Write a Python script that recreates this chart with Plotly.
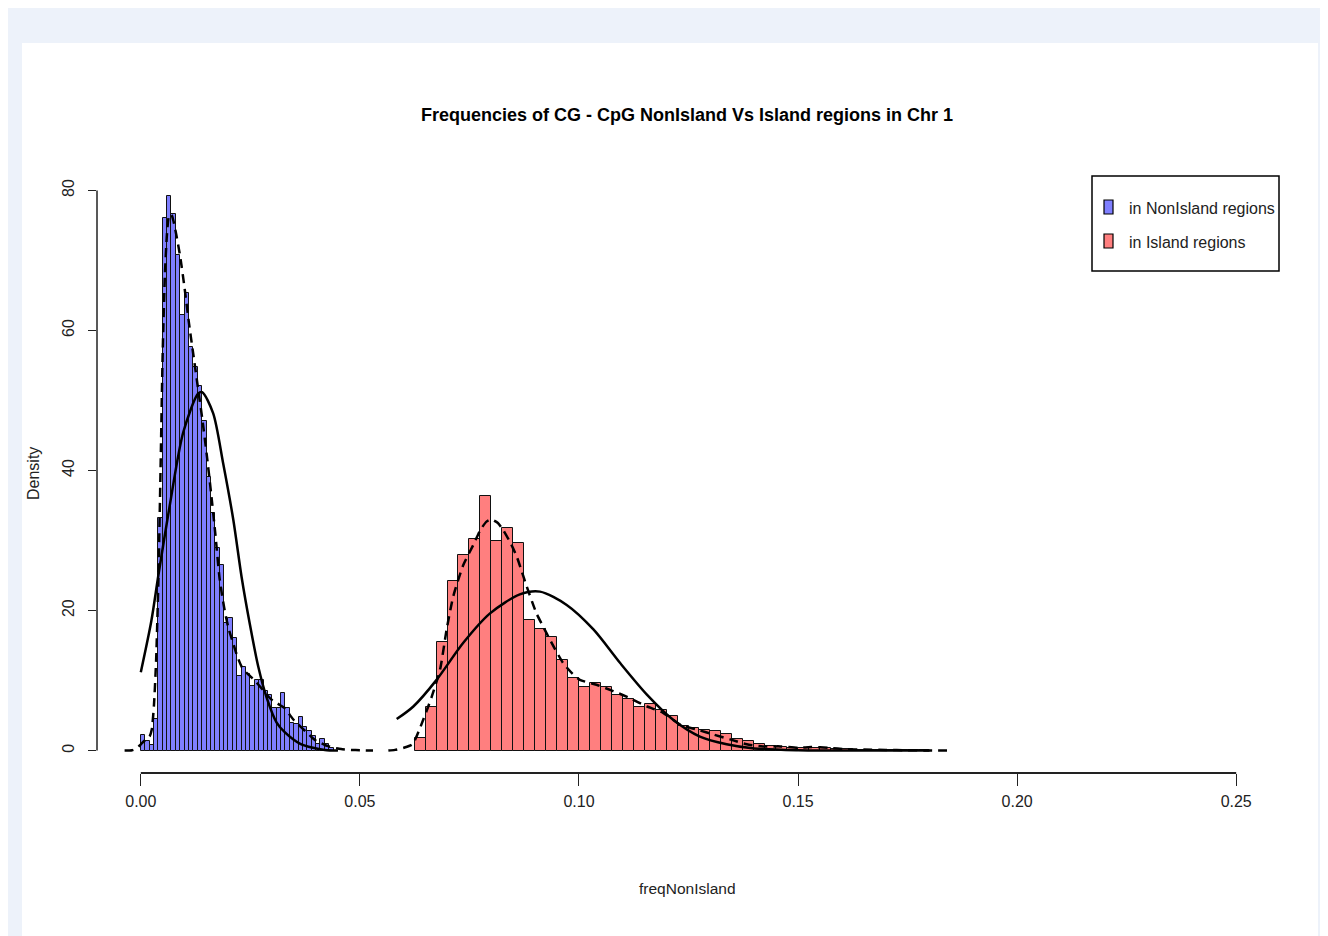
import plotly.graph_objects as go

# ---------------- data ----------------
blue_bin_width = 0.001
blue_bin_left = [0.000, 0.001, 0.002, 0.003, 0.004, 0.005, 0.006, 0.007, 0.008, 0.009,
                 0.010, 0.011, 0.012, 0.013, 0.014, 0.015, 0.016, 0.017, 0.018, 0.019,
                 0.020, 0.021, 0.022, 0.023, 0.024, 0.025, 0.026, 0.027, 0.028, 0.029,
                 0.030, 0.031, 0.032, 0.033, 0.034, 0.035, 0.036, 0.037, 0.038, 0.039,
                 0.040, 0.041, 0.042, 0.043]
blue_density = [2.2, 1.3, 0.8, 4.5, 33.2, 76.0, 79.2, 76.6, 70.8, 62.2,
                65.4, 57.7, 54.8, 52.0, 47.0, 39.1, 34.0, 29.0, 26.5, 18.2,
                18.9, 16.1, 10.6, 12.0, 11.0, 9.2, 10.1, 10.1, 8.5, 8.0,
                6.1, 6.1, 8.2, 6.1, 4.0, 3.8, 4.8, 3.4, 2.8, 2.1,
                0.9, 1.7, 0.9, 0.4]

red_bin_width = 0.0025
red_bin_left = [0.0625, 0.0650, 0.0675, 0.0700, 0.0725, 0.0750, 0.0775, 0.0800, 0.0825, 0.0850,
                0.0875, 0.0900, 0.0925, 0.0950, 0.0975, 0.1000, 0.1025, 0.1050, 0.1075, 0.1100,
                0.1125, 0.1150, 0.1175, 0.1200, 0.1225, 0.1250, 0.1275, 0.1300, 0.1325, 0.1350,
                0.1375, 0.1400, 0.1425, 0.1450, 0.1475, 0.1500, 0.1525, 0.1550, 0.1575, 0.1600,
                0.1625, 0.1650, 0.1675, 0.1700, 0.1725, 0.1750, 0.1775]
red_density = [1.8, 6.2, 15.5, 24.2, 28.0, 30.2, 36.4, 29.9, 31.8, 29.6,
               18.7, 17.4, 16.2, 13.0, 10.3, 9.1, 9.7, 9.1, 8.0, 7.3,
               6.2, 6.7, 5.8, 4.9, 3.5, 3.2, 3.0, 2.8, 2.3, 1.6,
               1.3, 0.9, 0.6, 0.5, 0.4, 0.4, 0.3, 0.3, 0.2, 0.2,
               0.1, 0.1, 0.1, 0.1, 0.05, 0.05, 0.05]

# kernel density curves (dashed)
blue_kde_x = [-0.0037, -0.002, -0.001, 0.0, 0.001, 0.002, 0.0025, 0.003, 0.0035, 0.004,
              0.0045, 0.005, 0.0055, 0.006, 0.0065, 0.007, 0.0075, 0.008, 0.009, 0.010,
              0.011, 0.012, 0.013, 0.014, 0.015, 0.016, 0.017, 0.018, 0.019, 0.020,
              0.021, 0.022, 0.023, 0.024, 0.025, 0.026, 0.027, 0.028, 0.029, 0.030,
              0.031, 0.032, 0.033, 0.034, 0.035, 0.036, 0.037, 0.038, 0.039, 0.040,
              0.041, 0.042, 0.043, 0.044, 0.045, 0.046, 0.048, 0.050, 0.053]
blue_kde_y = [0.0, 0.05, 0.3, 0.9, 1.5, 2.0, 3.0, 6.5, 13.0, 24.0,
              40.0, 57.0, 68.0, 74.0, 76.5, 76.5, 75.5, 74.0, 70.5, 66.0,
              61.0, 56.5, 52.0, 47.5, 42.5, 37.0, 31.0, 24.5, 20.5, 17.5,
              15.5, 13.5, 12.0, 11.2, 10.6, 10.0, 9.3, 8.6, 7.8, 7.2,
              6.8, 6.4, 6.0, 5.1, 4.3, 3.7, 3.1, 2.5, 1.9, 1.4,
              1.1, 0.8, 0.6, 0.4, 0.3, 0.2, 0.1, 0.04, 0.0]

red_kde_x = [0.0565, 0.058, 0.060, 0.062, 0.0637, 0.0664, 0.0683, 0.0698, 0.0713, 0.0736,
             0.0759, 0.0775, 0.0789, 0.0800, 0.0815, 0.0827, 0.0845, 0.0858, 0.0870, 0.0881,
             0.0903, 0.0920, 0.0934, 0.0964, 0.0985, 0.1002, 0.1040, 0.1078, 0.1116, 0.1155,
             0.1192, 0.1231, 0.1269, 0.1307, 0.1345, 0.1383, 0.1420, 0.1460, 0.1500, 0.1530,
             0.1570, 0.1610, 0.1650, 0.1700, 0.1750, 0.1800, 0.1850]
red_kde_y = [0.0, 0.1, 0.4, 0.9, 3.2, 7.7, 11.6, 17.3, 22.0, 26.5,
             29.4, 31.5, 32.7, 33.0, 32.5, 31.5, 29.5, 27.7, 25.5, 23.4,
             19.6, 17.5, 15.8, 12.5, 11.0, 10.1, 9.4, 8.5, 7.5, 6.3,
             5.4, 3.7, 3.0, 2.3, 1.6, 0.9, 0.6, 0.6, 0.4, 0.5,
             0.4, 0.2, 0.15, 0.1, 0.05, 0.02, 0.0]

# fitted normal curves (solid)
blue_norm_x = [0.0, 0.0024, 0.004, 0.0066, 0.0097, 0.0131, 0.0140, 0.0165, 0.0188, 0.0211,
               0.0230, 0.0249, 0.0268, 0.0287, 0.0310, 0.0329, 0.0363, 0.0393, 0.0420, 0.0450]
blue_norm_y = [11.2, 18.5, 25.0, 35.0, 45.5, 51.0, 51.2, 48.2, 41.0, 33.0,
               24.8, 18.0, 12.0, 7.6, 4.0, 2.6, 1.0, 0.4, 0.1, 0.0]

red_norm_x = [0.0584, 0.0622, 0.0675, 0.0736, 0.0797, 0.0865, 0.0911, 0.0972, 0.1033, 0.1094,
              0.1155, 0.1215, 0.1276, 0.1337, 0.1400, 0.1500, 0.1600, 0.1800]
red_norm_y = [4.5, 6.3, 10.1, 15.4, 19.6, 22.3, 22.7, 20.8, 17.3, 12.5,
              8.0, 4.4, 2.0, 0.9, 0.3, 0.05, 0.0, 0.0]

x_ticks = [0.00, 0.05, 0.10, 0.15, 0.20, 0.25]
x_tick_labels = ["0.00", "0.05", "0.10", "0.15", "0.20", "0.25"]
y_ticks = [0, 20, 40, 60, 80]
y_tick_labels = ["0", "20", "40", "60", "80"]

title_text = "Frequencies of CG - CpG NonIsland Vs Island regions in Chr 1"
x_title = "freqNonIsland"
y_title = "Density"
legend_labels = ["in NonIsland regions", "in Island regions"]

# ---------------- styles ----------------
BLUE = "#7F7FFF"
RED = "#FF7F7F"
FONT = "Liberation Sans, Arial, sans-serif"

BODY = 8  # default page margin around the figure
W, H = 1328 - BODY, 936 - BODY
ML, MR, MT, MB = 89, 48, 160, 163
PW = W - ML - MR
PH = H - MT - MB


def px_x(p):
    """page pixel -> paper x"""
    return (p - BODY - ML) / PW


def px_y(p):
    """page pixel -> paper y"""
    return (H - MB - (p - BODY)) / PH


fig = go.Figure()

fig.add_trace(go.Bar(
    x=[l + blue_bin_width / 2 for l in blue_bin_left], y=blue_density,
    width=blue_bin_width, marker=dict(color=BLUE, line=dict(color="#111", width=1)),
    name=legend_labels[0], showlegend=False))
fig.add_trace(go.Bar(
    x=[l + red_bin_width / 2 for l in red_bin_left], y=red_density,
    width=red_bin_width, marker=dict(color=RED, line=dict(color="#111", width=1)),
    name=legend_labels[1], showlegend=False))

for xs, ys in [(blue_kde_x, blue_kde_y), (red_kde_x, red_kde_y)]:
    fig.add_trace(go.Scatter(x=xs, y=ys, mode="lines", showlegend=False,
                             line=dict(color="black", width=2.5, dash="9px,6px", shape="spline", smoothing=0.6)))
for xs, ys in [(blue_norm_x, blue_norm_y), (red_norm_x, red_norm_y)]:
    fig.add_trace(go.Scatter(x=xs, y=ys, mode="lines", showlegend=False,
                             line=dict(color="black", width=2.5, shape="spline", smoothing=0.8)))

shapes = []
# page background panel
shapes.append(dict(type="rect", xref="paper", yref="paper", layer="below",
                   x0=px_x(22), x1=px_x(1318), y0=px_y(940), y1=px_y(43),
                   fillcolor="white", line=dict(width=0)))
# axis lines spanning the tick range
shapes.append(dict(type="line", xref="x", yref="paper", x0=min(x_ticks), x1=max(x_ticks),
                   y0=0, y1=0, line=dict(color="#222", width=2)))
shapes.append(dict(type="line", xref="paper", yref="y", x0=0, x1=0,
                   y0=min(y_ticks), y1=max(y_ticks), line=dict(color="#222", width=1.5)))
# legend box
shapes.append(dict(type="rect", xref="paper", yref="paper",
                   x0=px_x(1092), x1=px_x(1279), y0=px_y(271), y1=px_y(176),
                   fillcolor="white", line=dict(color="black", width=1.5)))
for c, yc in [(BLUE, 207), (RED, 241)]:
    shapes.append(dict(type="rect", xref="paper", yref="paper",
                       x0=px_x(1104), x1=px_x(1113), y0=px_y(yc + 7), y1=px_y(yc - 7),
                       fillcolor=c, line=dict(color="black", width=1.2)))

annotations = [
    dict(text="<b>" + title_text + "</b>", xref="paper", yref="paper", x=px_x(687), y=px_y(115),
         showarrow=False, font=dict(family=FONT, size=18, color="black"),
         xanchor="center", yanchor="middle"),
    dict(text=x_title, xref="paper", yref="paper", x=px_x(687), y=px_y(888),
         showarrow=False, font=dict(family=FONT, size=15.5, color="#222"),
         xanchor="center", yanchor="middle"),
    dict(text=y_title, xref="paper", yref="paper", x=px_x(33), y=px_y(474),
         showarrow=False, textangle=-90, font=dict(family=FONT, size=16, color="#222"),
         xanchor="center", yanchor="middle"),
]
for lab, yc in zip(legend_labels, [208, 242]):
    annotations.append(dict(text=lab, xref="paper", yref="paper", x=px_x(1127), y=px_y(yc),
                            showarrow=False, font=dict(family=FONT, size=16, color="#222"),
                            xanchor="left", yanchor="middle"))

fig.update_layout(
    width=W, height=H,
    margin=dict(l=ML, r=MR, t=MT, b=MB, pad=0),
    paper_bgcolor="#EDF2FA", plot_bgcolor="white",
    barmode="overlay", bargap=0,
    shapes=shapes, annotations=annotations,
    showlegend=False,
    xaxis=dict(range=[-0.01, 0.26], tickvals=x_ticks, ticktext=x_tick_labels,
               ticks="outside", ticklen=12, tickwidth=1.2, tickcolor="#222",
               showgrid=False, zeroline=False, showline=False,
               tickfont=dict(family=FONT, size=16, color="#222"), ticklabelstandoff=2),
    yaxis=dict(range=[-3.2, 83.2], tickvals=y_ticks, ticktext=y_tick_labels,
               ticks="outside", ticklen=8, tickwidth=1.2, tickcolor="#222", tickangle=-90,
               showgrid=False, zeroline=False, showline=False,
               tickfont=dict(family=FONT, size=16, color="#222"), ticklabelstandoff=8),
)

fig.write_html("out.html")
